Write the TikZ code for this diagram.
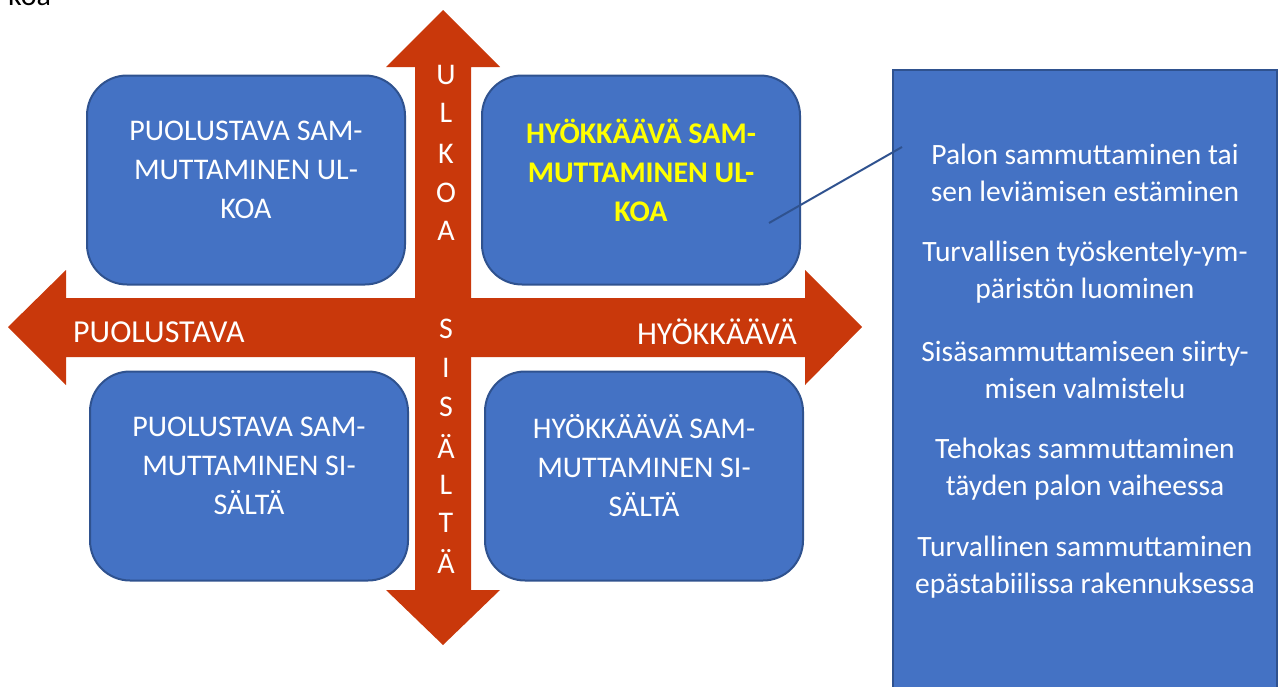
\documentclass[tikz,border=0pt]{standalone}
\usepackage{fontspec}
\setmainfont{Carlito}
\usetikzlibrary{positioning}
\definecolor{laatikko}{HTML}{4472C4}
\definecolor{reuna}{HTML}{2F528F}
\definecolor{nuoli}{HTML}{C9380B}
\definecolor{keltainen}{HTML}{FFFF00}

\tikzset{
  ruutu/.style={draw=reuna, line width=2pt, fill=laatikko, rounded corners=40pt,
    minimum width=318pt, minimum height=209pt},
  teksti/.style={text=white, align=center, font=\fontsize{30}{39}\selectfont},
  kirjain/.style={text=white, font=\fontsize{30}{34}\selectfont},
  akseli/.style={text=white, font=\fontsize{32}{36}\selectfont},
  lista/.style={text=white, align=center, font=\fontsize{29.5}{37}\selectfont}
}

\begin{document}
\begin{tikzpicture}[x=1pt,y=-1pt]
  \useasboundingbox (0,0) rectangle (1283,686);
  \node[anchor=base west, inner sep=0pt, font=\fontsize{30}{34}\selectfont] (otsikko) at (8,5) {koa};

  % nuolet
  \fill[nuoli] (443,10) -- (500,67) -- (471,67) -- (471,590) -- (500,590) -- (443,645)
    -- (386,590) -- (415,590) -- (415,67) -- (386,67) -- cycle;
  \fill[nuoli] (8,327) -- (66,270) -- (66,298) -- (805,298) -- (805,270) -- (862,327)
    -- (805,385) -- (805,357) -- (66,357) -- (66,385) -- cycle;

  % ruudut
  \node[ruutu] (pulko) at (246,180) {};
  \node[ruutu] (hyulko) at (641,180) {};
  \node[ruutu] (pusis) at (249,476) {};
  \node[ruutu] (hysis) at (644,476) {};

  \node[teksti] (pulkoteksti) at ([yshift=10pt]pulko.center) {PUOLUSTAVA SAM-\\MUTTAMINEN UL-\\KOA};
  \node[teksti, text=keltainen, font=\fontsize{30}{39}\selectfont\bfseries] (hyulkoteksti)
    at ([yshift=10pt]hyulko.center) {HYÖKKÄÄVÄ SAM-\\MUTTAMINEN UL-\\KOA};
  \node[teksti] (pusisteksti) at ([yshift=10pt]pusis.center) {PUOLUSTAVA SAM-\\MUTTAMINEN SI-\\SÄLTÄ};
  \node[teksti] (hysisteksti) at ([yshift=10pt]hysis.center) {HYÖKKÄÄVÄ SAM-\\MUTTAMINEN SI-\\SÄLTÄ};

  % nuolten tekstit
  \node[akseli, anchor=west, inner sep=0pt] (puol) at (73,332) {PUOLUSTAVA};
  \node[akseli, anchor=east, inner sep=0pt] (hyok) at (797,332) {HYÖKKÄÄVÄ};
  \foreach \k/\y in {U/75, L/113, K/154, O/193, A/231}
    \node[kirjain] at (446,\y) {\k};
  \foreach \k/\y in {S/329, I/368, S/407, Ä/446, L/485, T/523, Ä/561}
    \node[kirjain] at (446,\y) {\k};

  % oikea laatikko
  \node[draw=reuna, line width=2pt, fill=laatikko, minimum width=384pt, minimum height=620pt]
    (tavoitteet) at (1085,380) {};
  \node[lista] (t1) at (1085,173) {Palon sammuttaminen tai\\sen leviämisen estäminen};
  \node[lista] (t2) at (1085,272) {Turvallisen työskentely-ym-\\päristön luominen};
  \node[lista] (t3) at (1085,370) {Sisäsammuttamiseen siirty-\\misen valmistelu};
  \node[lista] (t4) at (1085,469) {Tehokas sammuttaminen\\täyden palon vaiheessa};
  \node[lista] (t5) at (1085,567) {Turvallinen sammuttaminen\\epästabiilissa rakennuksessa};

  \coordinate (alku) at (769,223);
  \coordinate (loppu) at (902,147);
  \draw[reuna, line width=2pt] (alku) -- (loppu);
\end{tikzpicture}
\end{document}
